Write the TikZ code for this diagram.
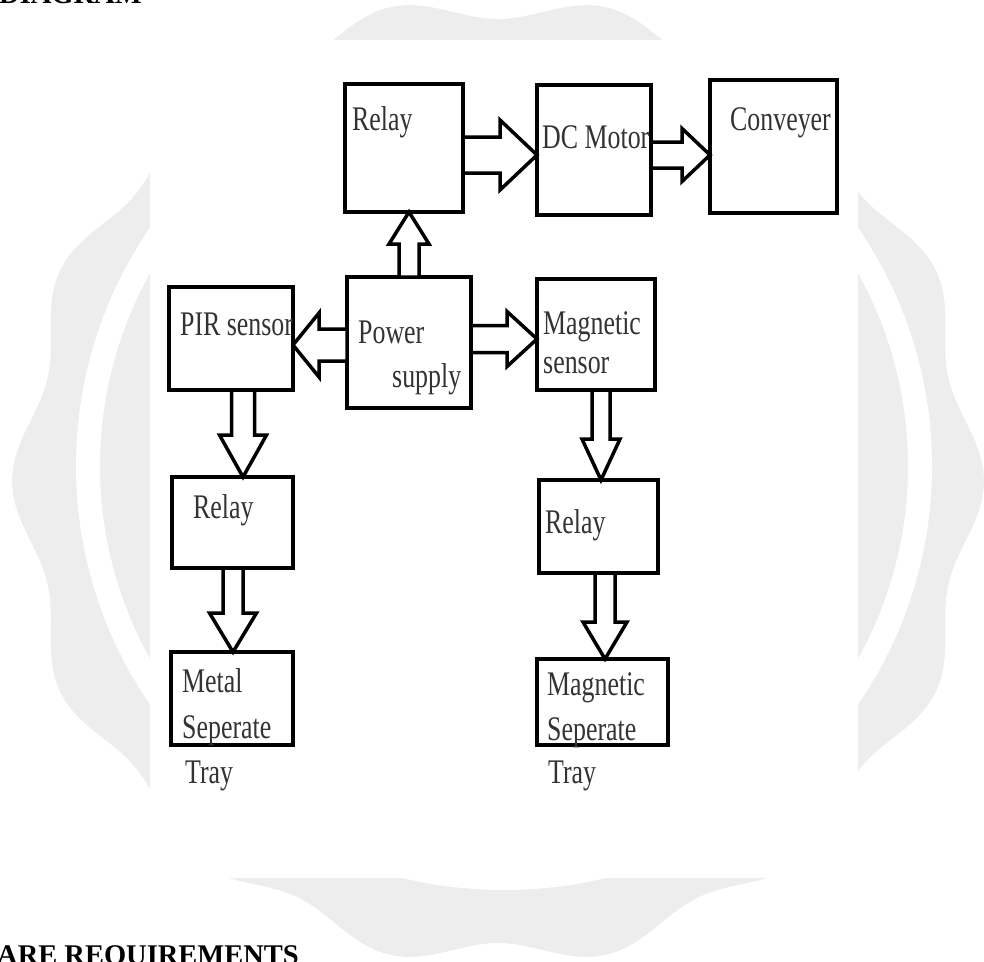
\documentclass[tikz,border=0pt]{standalone}
\usepackage{fontspec}
\setmainfont{Liberation Serif}
\newfontfamily\boxfont[FakeStretch=0.75]{Liberation Serif}
\usetikzlibrary{calc}

% hollow block arrow: start, tip, shaft half width, head half width, head length
\newcommand{\blockarrow}[5]{%
  \coordinate (ab) at ($(#2)!#5!(#1)$);
  \draw[barrow] ($(#1)!#3!90:(#2)$) -- ($(ab)!#3!90:(#2)$) -- ($(ab)!#4!90:(#2)$) -- (#2)
    -- ($(ab)!#4!-90:(#2)$) -- ($(ab)!#3!-90:(#2)$) -- ($(#1)!#3!-90:(#2)$) -- cycle;
}

\begin{document}
\begin{tikzpicture}[x=1pt, y=-1pt,
  box/.style={draw, line width=4pt, inner sep=0pt, outer sep=0pt},
  barrow/.style={draw, fill=white, line width=3.5pt, line join=miter},
  lbl/.style={anchor=base west, inner sep=0pt, text=black!80, font=\boxfont\fontsize{34.5}{40}\selectfont},
  head/.style={anchor=base west, inner sep=0pt, font=\bfseries\fontsize{28.5}{34}\selectfont}]

  \useasboundingbox (0,0) rectangle (984,961);
  \clip (0,0) rectangle (984,961);

  % Draw the watermark behind the panel
  \fill[gray!14] plot[domain=0:360, samples=300] ({498+(474+12*cos(14*\x))*cos(\x)}, {481+(474+12*cos(14*\x))*sin(\x)}) -- cycle;
  \draw[white, line width=24pt] (504,466) ellipse (416 and 412);
  \fill[white] (150,40) rectangle (858,878);

  % Page text cut by the picture
  \node[head] (hdtop) at (-1,4) {DIAGRAM};
  \node[head] (hdbot) at (-3,964) {ARE REQUIREMENTS};

  % Boxes
  \node[box, minimum width=118pt, minimum height=128pt] (relA) at (404,148) {};
  \node[box, minimum width=114pt, minimum height=130pt] (dcm) at (594,150) {};
  \node[box, minimum width=127pt, minimum height=133pt] (conv) at (773.5,146.5) {};
  \node[box, minimum width=124pt, minimum height=131pt] (pwr) at (409,342.5) {};
  \node[box, minimum width=124pt, minimum height=103pt] (pir) at (231,338.5) {};
  \node[box, minimum width=118pt, minimum height=111pt] (mags) at (596,334.5) {};
  \node[box, minimum width=121pt, minimum height=91pt] (relL) at (232.5,522.5) {};
  \node[box, minimum width=119pt, minimum height=93pt] (relR) at (598.5,526.5) {};
  \node[box, minimum width=122pt, minimum height=93pt] (metal) at (232,698.5) {};
  \node[box, minimum width=131pt, minimum height=86pt] (magsep) at (602.5,702) {};

  % Block arrows
  \blockarrow{relA.east |- 0,155}{dcm.west |- 0,155}{18pt}{35pt}{37pt}
  \blockarrow{dcm.east |- 0,155}{conv.west |- 0,155}{13pt}{26.5pt}{28pt}
  \blockarrow{pwr.north -| 409,0}{relA.south -| 409,0}{10pt}{20pt}{32pt}
  \blockarrow{pwr.west |- 0,345}{pir.east |- 0,345}{16pt}{32pt}{26pt}
  \blockarrow{pwr.east |- 0,339}{mags.west |- 0,339}{13.5pt}{27.5pt}{30pt}
  \blockarrow{pir.south -| 243,0}{relL.north -| 243,0}{11.5pt}{23.5pt}{42pt}
  \blockarrow{mags.south -| 601,0}{relR.north -| 601,0}{9pt}{19pt}{41pt}
  \blockarrow{relL.south -| 233,0}{metal.north -| 233,0}{10pt}{23.5pt}{39pt}
  \blockarrow{relR.south -| 605,0}{magsep.north -| 605,0}{10pt}{22pt}{37pt}

  % Labels
  \node[lbl] (tRelA) at (352,130) {Relay};
  \node[lbl] (tDcm) at (542,148) {DC Motor};
  \node[lbl] (tConv) at (730,130) {Conveyer};
  \node[lbl] (tPir) at (180,335) {PIR sensor};
  \node[lbl] (tPwrA) at (358,343) {Power};
  \node[lbl] (tPwrB) at (392,387) {supply};
  \node[lbl] (tMagA) at (543,334) {Magnetic};
  \node[lbl] (tMagB) at (543,373) {sensor};
  \node[lbl] (tRelL) at (193,518) {Relay};
  \node[lbl] (tRelR) at (545,533) {Relay};
  \node[lbl] (tMetA) at (182,692) {Metal};
  \node[lbl] (tMetB) at (182,738) {Seperate};
  \node[lbl] (tMetC) at (185,783) {Tray};
  \node[lbl] (tSepA) at (547,695) {Magnetic};
  \node[lbl] (tSepB) at (547,740) {Seperate};
  \node[lbl] (tSepC) at (548,783) {Tray};
\end{tikzpicture}
\end{document}
